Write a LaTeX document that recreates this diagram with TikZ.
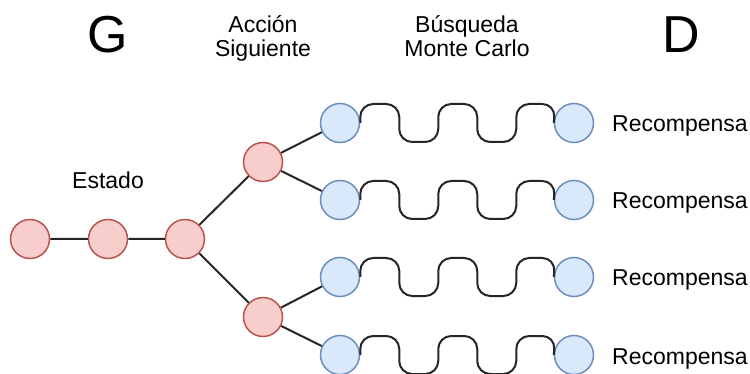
\documentclass[tikz,border=0pt]{standalone}
\usepackage{fontspec}
\setmainfont{Liberation Sans}
\definecolor{rojofill}{HTML}{F8CECC}
\definecolor{rojoline}{HTML}{B85450}
\definecolor{azulfill}{HTML}{DAE8FC}
\definecolor{azulline}{HTML}{6C8EBF}
\begin{document}
\begin{tikzpicture}[x=1pt, y=-1pt,
	nodo/.style={circle, minimum size=39pt, inner sep=0pt, line width=1.5pt},
	rojo/.style={nodo, draw=rojoline, fill=rojofill},
	azul/.style={nodo, draw=azulline, fill=azulfill},
	arista/.style={draw=black!85, line width=2pt},
	onda/.style={arista, rounded corners=13pt},
	txt/.style={font=\fontsize{23}{24}\selectfont, inner sep=0pt},
	grande/.style={font=\fontsize{52}{56}\selectfont, inner sep=0pt}]
	\useasboundingbox[fill=white] (0,0) rectangle (750,374);
	\node[grande, anchor=base] (g) at (108,53) {G};
	\node[grande, anchor=base] (d) at (681,53) {D};
	\node[txt, align=center, anchor=base] (accion) at (263,57) {Acción\\Siguiente};
	\node[txt, align=center, anchor=base] (busqueda) at (467,57) {Búsqueda\\Monte Carlo};
	\node[txt, anchor=base] (estado) at (108,189) {Estado};
	\node[rojo] (s1) at (30,239) {};
	\node[rojo] (s2) at (108,239) {};
	\node[rojo] (s3) at (185,239) {};
	\node[rojo] (a1) at (263,162) {};
	\node[rojo] (a2) at (263,317) {};
	\draw[arista] (s1) -- (s2) -- (s3) -- (a1);
	\draw[arista] (s3) -- (a2);
	\foreach \i/\y/\p in {1/123/a1, 2/200/a1, 3/277/a2, 4/355/a2} {
		\node[azul] (b\i) at (340,\y) {};
		\node[azul] (r\i) at (574,\y) {};
		\node[txt, anchor=base west] (t\i) at (612,\y+9) {Recompensa};
		\draw[arista] (\p) -- (b\i);
		\draw[onda] (b\i.east) -- ++(0,-19) -- ++(39,0) -- ++(0,38) -- ++(39,0)
			-- ++(0,-38) -- ++(39,0) -- ++(0,38) -- ++(39,0) -- ++(0,-38)
			-- ++(39,0) -- (r\i.west);
	}
\end{tikzpicture}
\end{document}
